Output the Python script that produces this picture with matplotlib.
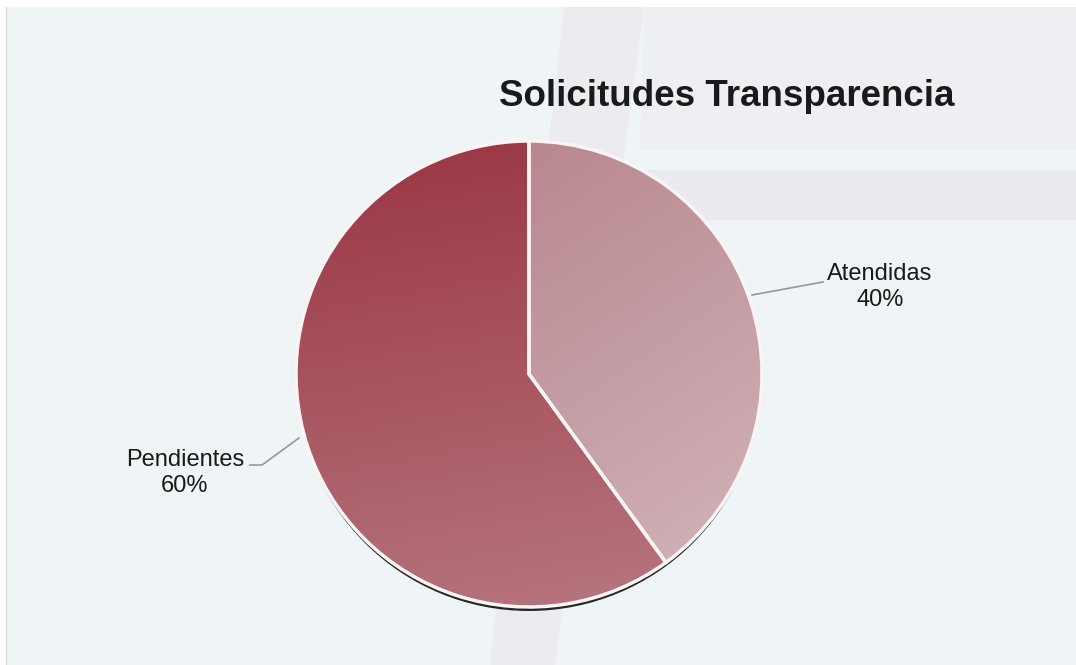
import numpy as np
import matplotlib
matplotlib.use("Agg")
import matplotlib.pyplot as plt
from matplotlib.patches import Polygon, Circle, Rectangle
from matplotlib.colors import LinearSegmentedColormap

plt.rcParams['font.family'] = ['Liberation Sans', 'DejaVu Sans']

title = "Solicitudes Transparencia"
categories = ["Atendidas", "Pendientes"]
values = [40, 60]

W, H = 1076, 665
fig = plt.figure(figsize=(W/100, H/100), dpi=100)
fig.patch.set_facecolor("#eff4f7")
ax = fig.add_axes([0, 0, 1, 1])
ax.set_xlim(0, W)
ax.set_ylim(0, H)
ax.set_aspect("equal")
ax.axis("off")

# faint background decoration (scanned watermark)
bg_col = "#e9e1e6"
ax.add_patch(Polygon([(565, H), (645, H), (555, H-665), (490, H-665)], closed=True,
                     facecolor=bg_col, edgecolor="none", alpha=0.45, zorder=0))
ax.add_patch(Polygon([(640, H-170), (1076, H-170), (1076, H-220), (640, H-220)], closed=True,
                     facecolor=bg_col, edgecolor="none", alpha=0.5, zorder=0))
ax.add_patch(Polygon([(645, H), (1076, H), (1076, H-150), (640, H-150)], closed=True,
                     facecolor=bg_col, edgecolor="none", alpha=0.25, zorder=0))
# scan border
ax.add_patch(Rectangle((0, H-7), W, 7, facecolor="white", edgecolor="none", zorder=0.5))
ax.add_patch(Rectangle((0, 0), 6, H, facecolor="white", edgecolor="none", zorder=0.5))
ax.plot([6, 6], [0, H-7], color="#d8dadc", lw=1, zorder=0.6)

cx, cy, r = 529, H-374, 233

# shadow
ax.add_patch(Circle((cx, cy-5), r-1, facecolor="#262626", edgecolor="none", zorder=1))

wedges, _ = ax.pie(values, startangle=90, counterclock=False, center=(cx, cy), radius=r,
                   colors=["none", "none"],
                   wedgeprops=dict(edgecolor="#fbf4f4", linewidth=2.5))
for w in wedges:
    w.set_zorder(3)

# gradients clipped to wedges
cm_a = LinearSegmentedColormap.from_list("a", ["#b27b84", "#d3b7bc"])
cm_p = LinearSegmentedColormap.from_list("p", ["#9a3542", "#b77881"])
yy, xx = np.mgrid[0:1:200j, 0:1:200j]
grad_a = yy * 0.6 + xx * 0.4
grad_p = yy * 0.85 + xx * 0.15
ext = [cx - r, cx + r, cy - r, cy + r]
im_a = ax.imshow(grad_a, cmap=cm_a, extent=ext, origin="upper", zorder=2, interpolation="bilinear")
im_a.set_clip_path(wedges[0])
im_p = ax.imshow(grad_p, cmap=cm_p, extent=ext, origin="upper", zorder=2, interpolation="bilinear")
im_p.set_clip_path(wedges[1])
ax.set_xlim(0, W)
ax.set_ylim(0, H)
ax.set_aspect("equal")

# labels with leader lines
lc = "#8f9aa0"
ax.plot([752, 823], [H-295, H-282], color=lc, lw=1.2, zorder=4)
ax.text(880, H-287, f"{categories[0]}\n{values[0]}%", ha="center", va="center",
        fontsize=17, color="#1a1a1a", linespacing=1.2, zorder=5)
ax.plot([299, 262, 250], [H-438, H-465, H-465], color=lc, lw=1.2, zorder=4)
ax.text(185, H-473, f"{categories[1]}\n{values[1]}%", ha="center", va="center",
        fontsize=17, color="#1a1a1a", linespacing=1.2, zorder=5)

ax.text(727, H-97, title, ha="center", va="center", fontsize=26.5, fontweight="bold",
        color="#1a1a1a", zorder=5)

fig.savefig("out.png", dpi=100, facecolor=fig.get_facecolor())
